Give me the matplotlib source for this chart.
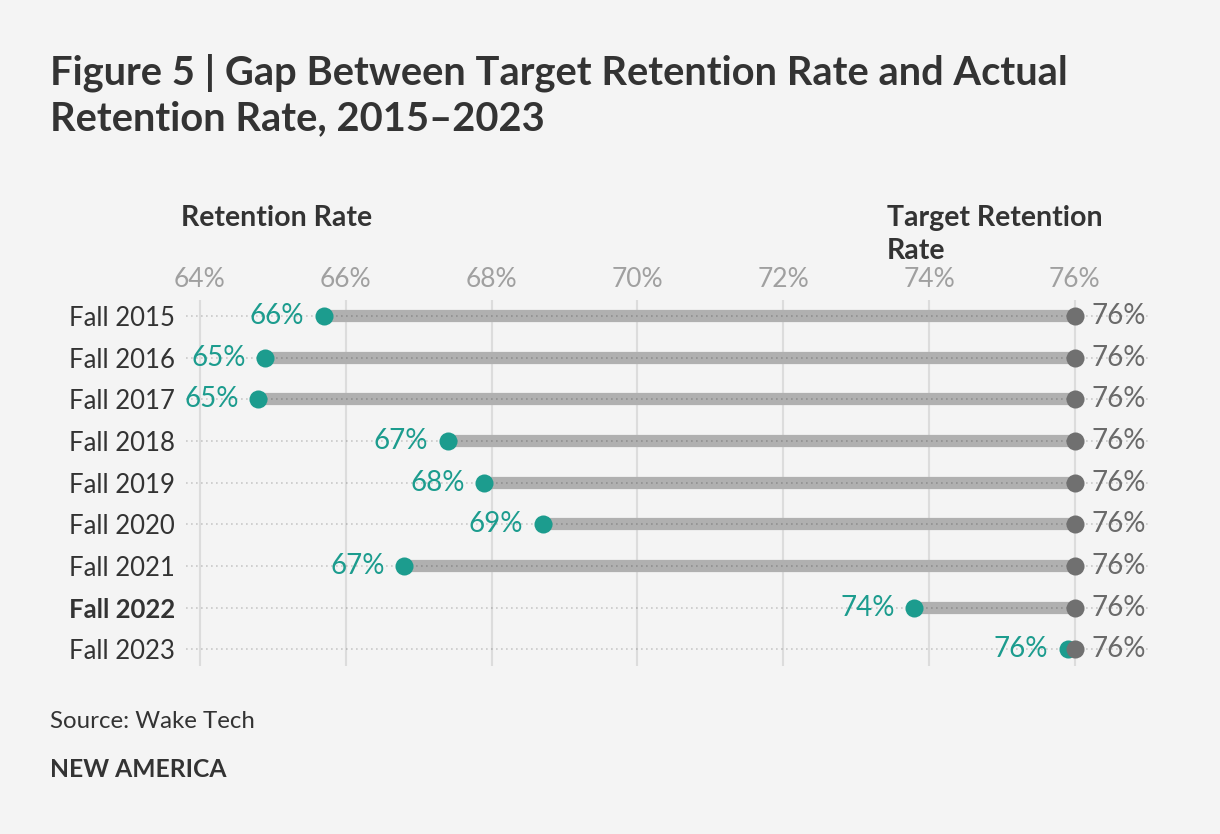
import matplotlib.pyplot as plt

plt.rcParams['font.family'] = ['Lato', 'DejaVu Sans']

years = ["Fall 2015", "Fall 2016", "Fall 2017", "Fall 2018", "Fall 2019",
         "Fall 2020", "Fall 2021", "Fall 2022", "Fall 2023"]
actual = [65.7, 64.9, 64.8, 67.4, 67.9, 68.7, 66.8, 73.8, 75.9]
target = [76.0, 76.0, 76.0, 76.0, 76.0, 76.0, 76.0, 76.0, 76.0]
ticks = [64, 66, 68, 70, 72, 74, 76]

bg = "#f4f4f4"
teal = "#1c9c8e"
dark = "#333333"

fig = plt.figure(figsize=(12.2, 8.34), dpi=100, facecolor=bg)
ax = fig.add_axes([186 / 1220, 1 - 666 / 834, 964 / 1220, 366 / 834])
ax.set_facecolor(bg)

ax.set_xlim(63.81, 77.03)
ax.set_ylim(8.4, -0.38)

for t in ticks:
    ax.axvline(t, color="#dcdcdc", lw=1.5, zorder=0)

ypos = list(range(len(years)))
ax.hlines(ypos, actual, target, color="#b0b0b0", lw=8.8, zorder=1)
ax.hlines(ypos, 63.81, 77.03, color="black", alpha=0.18, lw=1.2,
          linestyles=(0, (1, 2)), zorder=2)
ax.plot(actual, ypos, "o", color=teal, ms=13, mec="none", zorder=3)
ax.plot(target, ypos, "o", color="#707070", ms=13, mec="none", zorder=4)

for i in ypos:
    ax.annotate(f"{round(actual[i])}%", (actual[i], i), xytext=(-14, 0),
                textcoords="offset points", ha="right", va="center",
                color=teal, fontsize=20)
    ax.annotate(f"{round(target[i])}%", (target[i], i), xytext=(12, 0),
                textcoords="offset points", ha="left", va="center",
                color="#6a6a6a", fontsize=20)

ax.xaxis.tick_top()
ax.set_xticks(ticks)
ax.set_xticklabels([f"{t}%" for t in ticks])
ax.tick_params(axis="x", length=0, pad=6, labelsize=19, labelcolor="#a0a0a0")
ax.set_yticks(ypos)
ax.set_yticklabels(years)
ax.tick_params(axis="y", length=0, pad=8, labelsize=18.5, labelcolor=dark)
ax.get_yticklabels()[7].set_fontweight("bold")
for s in ax.spines.values():
    s.set_visible(False)

fig.text(50 / 1220, 1 - 85 / 834, "Figure 5 | Gap Between Target Retention Rate and Actual",
         fontsize=28.7, fontweight="bold", color=dark, va="baseline")
fig.text(50 / 1220, 1 - 130 / 834, "Retention Rate, 2015\u20132023",
         fontsize=28.7, fontweight="bold", color=dark, va="baseline")
fig.text(181 / 1220, 1 - 226 / 834, "Retention Rate", fontsize=20.5,
         fontweight="bold", color=dark, va="baseline")
fig.text(887 / 1220, 1 - 226 / 834, "Target Retention", fontsize=20.5,
         fontweight="bold", color=dark, va="baseline")
fig.text(887 / 1220, 1 - 259 / 834, "Rate", fontsize=20.5,
         fontweight="bold", color=dark, va="baseline")
fig.text(50 / 1220, 1 - 728 / 834, "Source: Wake Tech", fontsize=17.3,
         color=dark, va="baseline")
fig.text(50 / 1220, 1 - 777 / 834, "NEW AMERICA", fontsize=17.7,
         fontweight="bold", color=dark, va="baseline")

fig.savefig("out.png", facecolor=bg)
